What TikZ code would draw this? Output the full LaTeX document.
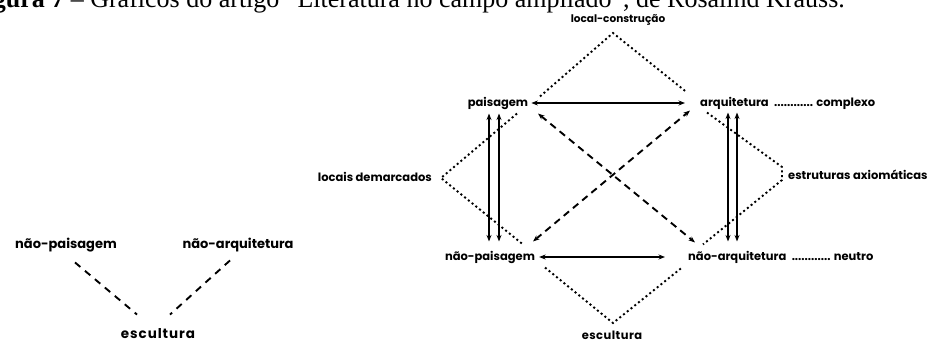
\documentclass[tikz,border=0pt]{standalone}
\usepackage{fontspec}
\setmainfont{Liberation Serif}
\newfontfamily\rotfont{Poppins}
\usetikzlibrary{arrows.meta,positioning,calc}
\tikzset{
  >={Stealth[length=6.5pt,width=5pt]},
  % rotulos
  rot/.style={font=\rotfont\bfseries\fontsize{11.5}{13}\selectfont,inner sep=0pt,
              text height=8.5pt,text depth=2.2pt},
  rotg/.style={font=\rotfont\bfseries\fontsize{13}{15}\selectfont,inner sep=0pt,
               text height=10pt,text depth=2.5pt},
  legenda/.style={font=\fontsize{26}{30}\selectfont,inner sep=0pt},
  % linhas
  sol/.style={<->,line width=1.5pt},
  trac/.style={<->,line width=1.9pt,dash pattern=on 7pt off 5pt},
  tracg/.style={line width=1.9pt,dash pattern=on 7pt off 6pt},
  pont/.style={line width=1.9pt,dash pattern=on 2pt off 2.8pt},
}
\begin{document}
\begin{tikzpicture}[x=1pt,y=1pt]
  \useasboundingbox (0,0) rectangle (928,343);
  \begin{scope}
    \clip (0,0) rectangle (928,343);
    \node[legenda,anchor=base east] (leg) at (845,335.5)
      {\textbf{Figura 7} – Gráficos do artigo “Literatura no campo ampliado”, de Rosalind Krauss.};
  \end{scope}
  % esquema pequeno
  \node[rotg] (np2) at (66,98) {não-paisagem};
  \node[rotg] (nq2) at (238,98) {não-arquitetura};
  \node[rotg,font=\rotfont\bfseries\fontsize{13.5}{15}\selectfont\addfontfeature{LetterSpace=7}] (es2) at (158,8) {escultura};
  \draw[tracg] ($(np2.south)+(9,-11)$) -- ($(es2.north)+(-21,14)$);
  \draw[tracg] ($(nq2.south)+(-8,-9)$) -- ($(es2.north)+(12,14)$);
  % campo ampliado
  \coordinate (lcp) at (613,310);
  \node[rot,font=\rotfont\bfseries\fontsize{10.5}{12}\selectfont] (lc) at (618,324) {local-construção};
  \node[rot] (pai) at (498,240) {paisagem};
  \node[rot,anchor=west] (arq) at (700,240) {arquitetura};
  \node[rot,right=5pt of arq] (cpx) {............ complexo};
  \coordinate (ldp) at (441,165);
  \node[rot,anchor=east] (ld) at (432,165) {locais demarcados};
  \coordinate (eapa) at (782,176);
  \coordinate (eapb) at (782,163);
  \node[rot,anchor=west] (ea) at (788,167) {estruturas axiomáticas};
  \node[rot] (npa) at (490,86) {não-paisagem};
  \node[rot,anchor=west] (nar) at (688,86) {não-arquitetura};
  \node[rot,right=5pt of nar] (neu) {............ neutro};
  \coordinate (esp) at (613,20);
  \node[rot,font=\rotfont\bfseries\fontsize{11.5}{13}\selectfont\addfontfeature{LetterSpace=4}] (esc) at (612,7) {escultura};
  \draw[sol] ([xshift=3pt]pai.east) -- ([xshift=-15pt]arq.west);
  \draw[sol] ([xshift=4pt]npa.east) -- ([xshift=-23pt]nar.west);
  \draw[sol] ($(pai.south)+(-9,-5)$) -- ($(pai.south |- npa.north)+(-9,10)$);
  \draw[sol] ($(pai.south)+(1,-5)$) -- ($(pai.south |- npa.north)+(1,10)$);
  \draw[sol] ($(arq.south west)+(28,-4)$) -- ($(arq.south west |- nar.north)+(28,10)$);
  \draw[sol] ($(arq.south west)+(37,-4)$) -- ($(arq.south west |- nar.north)+(37,10)$);
  \draw[trac] ($(npa.north)+(43,10)$) -- ($(arq.south west)+(-10,-2)$);
  \draw[trac] ($(pai.south)+(40,-5)$) -- ($(nar.north west)+(7,9)$);
  \draw[pont] ($(pai.north)+(42,1)$) -- (lcp) -- ($(arq.north west)+(-13,5)$);
  \draw[pont] ($(pai.south)+(19,-5)$) -- (ldp) -- ($(npa.north)+(33,7)$);
  \draw[pont] ($(arq.south west)+(7,-4)$) -- (eapa) -- (eapb) -- ($(nar.north west)+(15,7)$);
  \draw[pont] ($(npa.south)+(55,-5)$) -- (esp) -- ($(nar.south west)+(-6,-5)$);
\end{tikzpicture}
\end{document}
